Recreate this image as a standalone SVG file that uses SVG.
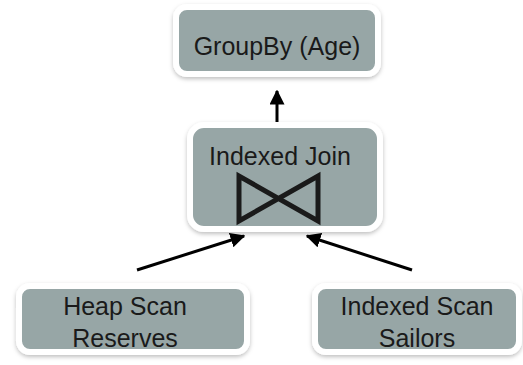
<svg xmlns="http://www.w3.org/2000/svg" width="523" height="365" viewBox="0 0 523 365">
  <defs>
    <filter id="sh" x="-10%" y="-10%" width="120%" height="130%">
      <feDropShadow dx="0" dy="2" stdDeviation="2" flood-color="#000" flood-opacity="0.25"/>
    </filter>
    <marker id="ah" viewBox="0 0 10 10" refX="9" refY="5" markerWidth="5" markerHeight="5" orient="auto" markerUnits="strokeWidth">
      <path d="M0,0 L10,5 L0,10 z" fill="#000"/>
    </marker>
  </defs>
  <style>
    .box { fill: #97a6a6; stroke: #ffffff; stroke-width: 6; filter: url(#sh); }
    .lbl { font-family: "Liberation Sans", Arial, sans-serif; font-size: 25px; fill: #1a1a1a; text-anchor: middle; }
    .edge { stroke: #000; stroke-width: 3; fill: none; marker-end: url(#ah); }
  </style>
  <rect width="523" height="365" fill="#ffffff"/>
  <g id="connectors">
    <line class="edge" x1="277" y1="122" x2="277" y2="91"/>
    <line class="edge" x1="137" y1="270" x2="244" y2="236"/>
    <line class="edge" x1="412" y1="270" x2="307" y2="236"/>
  </g>
  <g id="groupby">
    <rect class="box" x="176" y="7" width="202" height="67" rx="11"/>
    <text class="lbl" x="277" y="55">GroupBy (Age)</text>
  </g>
  <g id="join">
    <rect class="box" x="190" y="125" width="190" height="104" rx="14"/>
    <text class="lbl" x="280" y="165">Indexed Join</text>
    <path d="M239,176 L239,221 L318,176 L318,221 Z" fill="none" stroke="#1a1a1a" stroke-width="5" stroke-linejoin="miter"/>
  </g>
  <g id="heapscan">
    <rect class="box" x="19" y="286" width="228" height="66" rx="11"/>
    <text class="lbl" x="125" y="315">Heap Scan</text>
    <text class="lbl" x="125" y="347">Reserves</text>
  </g>
  <g id="indexedscan">
    <rect class="box" x="315" y="286" width="204" height="66" rx="11"/>
    <text class="lbl" x="417" y="315">Indexed Scan</text>
    <text class="lbl" x="417" y="347">Sailors</text>
  </g>
</svg>
